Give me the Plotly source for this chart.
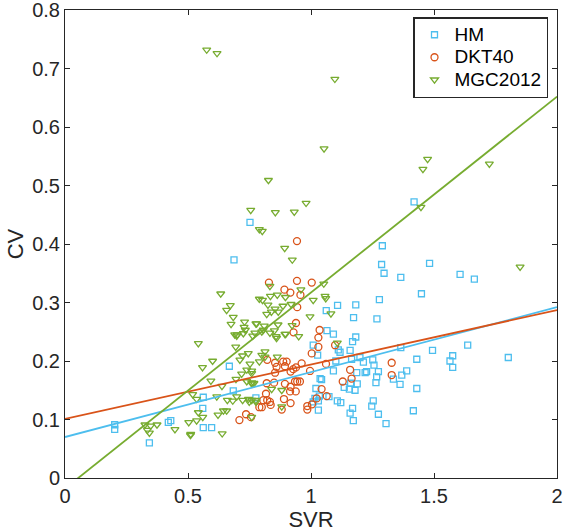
import plotly.graph_objects as go
import numpy as np

# ---------------- data ----------------
hm_x = [0.202,0.202,0.343,0.42,0.43,0.562,0.596,0.56,0.562,0.668,0.684,0.776,0.752,0.687,
        1.419,1.29,1.287,1.297,1.482,1.365,1.449,1.278,1.108,1.182,1.062,1.173,1.268,1.065,1.091,1.182,
        1.606,1.664,
        1.009,1.027,1.169,1.111,1.118,1.159,1.165,1.101,1.199,1.213,1.251,1.256,1.365,1.494,1.43,1.389,
        1.369,1.335,1.362,1.43,1.267,1.264,1.274,1.226,1.22,1.186,1.091,1.037,1.043,1.02,1.034,1.016,
        1.03,1.073,1.03,1.135,1.156,1.179,1.161,1.188,1.107,1.121,1.169,1.159,1.172,1.247,1.253,1.274,
        1.305,1.416,1.009,
        1.637,1.576,1.565,1.576,1.802]
hm_y = [0.091,0.083,0.06,0.095,0.098,0.086,0.086,0.119,0.138,0.191,0.149,0.137,0.437,0.373,
        0.472,0.397,0.365,0.35,0.367,0.343,0.315,0.305,0.295,0.296,0.286,0.274,0.272,0.252,0.246,0.241,
        0.348,0.34,
        0.227,0.21,0.233,0.219,0.215,0.218,0.203,0.2,0.206,0.198,0.202,0.193,0.223,0.218,0.203,0.183,
        0.176,0.169,0.16,0.153,0.173,0.163,0.182,0.182,0.18,0.18,0.183,0.17,0.168,0.153,0.14,0.136,
        0.132,0.139,0.116,0.155,0.152,0.15,0.162,0.161,0.132,0.129,0.119,0.111,0.098,0.123,0.132,0.109,
        0.093,0.115,0.13,
        0.227,0.209,0.2,0.189,0.206]

dkt_x = [0.943,0.829,0.943,1.003,0.892,0.916,0.957,0.944,0.939,1.035,0.929,1.03,
         0.709,0.736,0.756,0.79,
         1.03,1.003,1.098,0.822,0.854,0.887,0.901,0.86,0.894,0.962,0.928,0.939,0.917,0.996,1.061,0.854,
         0.82,0.85,0.894,0.935,0.944,0.955,0.917,0.915,0.938,0.817,0.806,0.822,0.833,0.8,0.836,0.89,
         0.917,0.985,0.985,1.004,1.043,1.064,1.023,0.881,1.129,1.159,1.165,1.328,1.328]
dkt_y = [0.405,0.334,0.337,0.334,0.322,0.317,0.313,0.292,0.265,0.253,0.249,0.24,
         0.099,0.109,0.104,0.121,
         0.224,0.213,0.227,0.202,0.197,0.199,0.199,0.19,0.191,0.196,0.186,0.189,0.182,0.183,0.195,0.18,
         0.162,0.163,0.161,0.165,0.165,0.165,0.156,0.148,0.148,0.144,0.133,0.133,0.13,0.121,0.125,0.135,
         0.128,0.117,0.123,0.126,0.152,0.14,0.136,0.117,0.165,0.185,0.17,0.197,0.176]

mgc_x = [0.576,0.618,1.097,1.053,0.827,1.474,1.455,0.98,1.725,
         0.755,0.633,0.672,0.657,0.684,0.675,0.73,0.776,0.728,0.733,0.698,0.763,0.79,0.79,
         0.855,0.932,0.802,0.893,0.924,1.447,
         0.833,0.959,1.052,1.009,1.057,1.06,0.803,0.835,0.863,0.896,0.825,0.886,0.919,0.854,0.839,0.82,
         0.867,0.996,1.081,0.779,0.81,0.866,0.923,0.772,0.806,0.851,0.897,0.858,0.95,
         1.85,
         0.542,0.6,0.559,0.593,0.519,0.535,0.638,0.617,0.66,0.682,0.722,0.746,0.759,0.622,0.542,0.503,
         0.535,0.56,0.644,0.657,0.325,0.348,0.374,0.335,0.343,0.447,0.511,0.51,0.639,0.739,0.759,0.711,
         0.722,0.745,0.694,0.69,0.7,0.725,0.718,0.695,0.739,0.76,0.698,0.749,0.776,
         0.8,0.833,0.86,0.894,1.107,0.813,0.8,0.813,0.863,0.79,0.752,0.759,0.759,0.768,0.84,0.881,
         0.776,0.759,0.881]
mgc_y = [0.732,0.726,0.682,0.563,0.509,0.545,0.528,0.47,0.537,
         0.458,0.315,0.295,0.287,0.275,0.263,0.267,0.264,0.258,0.253,0.243,0.243,0.425,0.306,
         0.454,0.455,0.422,0.393,0.373,0.463,
         0.328,0.322,0.332,0.304,0.311,0.307,0.304,0.311,0.313,0.309,0.296,0.294,0.297,0.289,0.284,0.28,
         0.284,0.276,0.281,0.264,0.26,0.262,0.261,0.248,0.253,0.252,0.246,0.242,0.242,
         0.361,
         0.23,0.2,0.189,0.166,0.143,0.135,0.157,0.139,0.133,0.132,0.133,0.135,0.133,0.108,0.112,0.095,
         0.098,0.104,0.115,0.115,0.091,0.089,0.091,0.082,0.077,0.083,0.075,0.073,0.076,0.185,0.183,0.202,
         0.209,0.213,0.224,0.245,0.245,0.247,0.178,0.169,0.165,0.161,0.139,0.13,0.13,
         0.25,0.248,0.239,0.246,0.231,0.216,0.21,0.207,0.207,0.199,0.195,0.179,0.163,0.162,0.152,0.15,
         0.133,0.104,0.122]

# linear fits: intercept, slope
fit_names = ["HM", "DKT40", "MGC2012"]
fit_intercepts = [0.070, 0.101, -0.018]
fit_slopes = [0.111, 0.093, 0.335]
fit_x_range = [0.0, 2.0]

# ---------------- style ----------------
c_hm = "#4DBEEE"
c_dkt = "#D95319"
c_mgc = "#77AC30"
axis_col = "#262626"
font_family = "Liberation Sans, Arial, Helvetica, sans-serif"


def legend_label(s):
    return '<span style="font-size:19px">%s</span>' % s


fig = go.Figure()
fig.add_trace(go.Scatter(x=hm_x, y=hm_y, mode="markers", name=legend_label("HM"),
                         marker=dict(symbol="square-open", size=6, color=c_hm, line=dict(width=1.3))))
fig.add_trace(go.Scatter(x=dkt_x, y=dkt_y, mode="markers", name=legend_label("DKT40"),
                         marker=dict(symbol="circle-open", size=7, color=c_dkt, line=dict(width=1.3))))
fig.add_trace(go.Scatter(x=mgc_x, y=mgc_y, mode="markers", name=legend_label("MGC2012"),
                         marker=dict(symbol="triangle-down-open", size=7, color=c_mgc, line=dict(width=1.3))))

fx = np.array(fit_x_range)
for name, b0, b1, col in zip(fit_names, fit_intercepts, fit_slopes, [c_hm, c_dkt, c_mgc]):
    fig.add_trace(go.Scatter(x=fx, y=b0 + b1 * fx, mode="lines", showlegend=False,
                             line=dict(color=col, width=1.8), hoverinfo="skip"))

axis_common = dict(showline=True, linecolor=axis_col, linewidth=1, mirror="ticks",
                   ticks="inside", ticklen=5, tickcolor=axis_col, showgrid=False, zeroline=False,
                   automargin=False, ticklabeloverflow="allow",
                   tickfont=dict(size=20, color=axis_col, family=font_family))

L, R, T, B, W, H = 65, 6, 10, 54, 563, 532
fig.update_layout(
    width=W, height=H,
    margin=dict(l=L, r=R, t=T, b=B),
    paper_bgcolor="white", plot_bgcolor="white",
    font=dict(family=font_family, color=axis_col),
    xaxis=dict(range=[0, 2], tickvals=[0, 0.5, 1, 1.5, 2],
               ticktext=["0", "0.5", "1", "1.5", "2"],
               title=dict(text="SVR", font=dict(size=22, color=axis_col), standoff=2), **axis_common),
    yaxis=dict(range=[0, 0.8], tickvals=[0, 0.1, 0.2, 0.3, 0.4, 0.5, 0.6, 0.7, 0.8],
               ticktext=["0", "0.1", "0.2", "0.3", "0.4", "0.5", "0.6", "0.7", "0.8"],
               title=dict(text="CV", font=dict(size=22, color=axis_col), standoff=2), **axis_common),
    legend=dict(x=(548 - L) / (W - L - R), y=1 - (17 - T) / (H - T - B),
                xanchor="right", yanchor="top",
                bordercolor=axis_col, borderwidth=1.5, bgcolor="white",
                font=dict(size=15, color="black", family=font_family),
                itemwidth=30, tracegroupgap=0),
    showlegend=True,
)

fig.write_html("out.html", config={"displayModeBar": False},
               post_script="document.body.style.margin='0';document.body.style.padding='0';")
